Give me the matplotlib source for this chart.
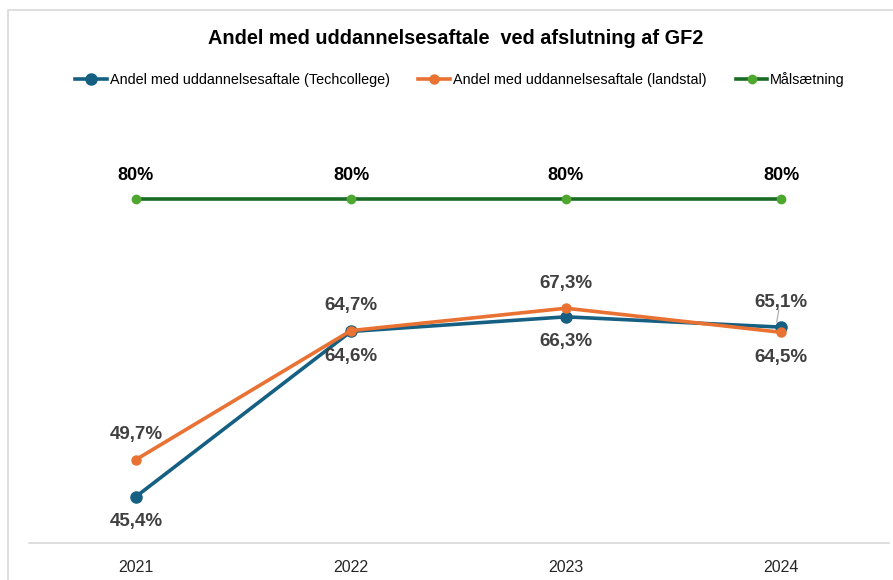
import matplotlib.pyplot as plt
from matplotlib.patches import Rectangle

years = ['2021', '2022', '2023', '2024']
techcollege = [45.4, 64.6, 66.3, 65.1]
landstal = [49.7, 64.7, 67.3, 64.5]
maal = [80, 80, 80, 80]

# label placement: +1 above, -1 below
tech_pos = [-1, -1, -1, 1]
land_pos = [1, 1, 1, -1]

plt.rcParams['font.family'] = ['Liberation Sans', 'DejaVu Sans']

fig = plt.figure(figsize=(8.93, 5.8), dpi=100)
frame = Rectangle((8/893, -0.1), 1.1, (580-10)/580 + 0.1, transform=fig.transFigure,
                  facecolor='white', edgecolor='#d9d9d9', linewidth=1.2, zorder=-10)
fig.patches.append(frame)

ax = fig.add_axes([28.5/893, 37/580, 860/893, 430/580])
ax.set_facecolor('none')
x = range(len(years))

ax.plot(x, maal, color='#196B24', linewidth=2.6, marker='o', markersize=6,
        markerfacecolor='#4EA72E', markeredgecolor='#4EA72E', label='Målsætning', zorder=2)
ax.plot(x, techcollege, color='#156082', linewidth=2.6, marker='o', markersize=8,
        label='Andel med uddannelsesaftale (Techcollege)', zorder=3)
ax.plot(x, landstal, color='#E97132', linewidth=2.6, marker='o', markersize=6.5,
        label='Andel med uddannelsesaftale (landstal)', zorder=4)

def fmt(v):
    return f'{v:.1f}'.replace('.', ',') + '%'

for i, v in enumerate(maal):
    ax.annotate(f'{v}%', (i, v), xytext=(0, 17), textcoords='offset points',
                ha='center', va='center', fontsize=13, fontweight='bold', color='black')
for i, (v, p) in enumerate(zip(techcollege, tech_pos)):
    ax.annotate(fmt(v), (i, v), xytext=(0, 18 * p), textcoords='offset points',
                ha='center', va='center', fontsize=13.5, fontweight='bold', color='#404040')
for i, (v, p) in enumerate(zip(landstal, land_pos)):
    ax.annotate(fmt(v), (i, v), xytext=(0, 18 * p), textcoords='offset points',
                ha='center', va='center', fontsize=13.5, fontweight='bold', color='#404040')
# leader line for 2024 Techcollege label
ax.plot([3 - 0.02, 3 - 0.01], [techcollege[3] + 0.6, techcollege[3] + 2.0], color='#a6a6a6', linewidth=0.8)

ax.set_xlim(-0.5, 3.5)
ax.set_ylim(40, 90)
ax.set_xticks(list(x))
ax.set_xticklabels(years, fontsize=11.5, color='#262626')
ax.set_yticks([])
for s in ['left', 'right', 'top']:
    ax.spines[s].set_visible(False)
ax.spines['bottom'].set_color('#d9d9d9')
ax.spines['bottom'].set_linewidth(1.2)
ax.tick_params(axis='x', length=0, pad=12)

fig.text(0.51, 1 - 38/580, 'Andel med uddannelsesaftale  ved afslutning af GF2', ha='center', va='center',
         fontsize=14.3, fontweight='bold', color='black')

handles, labels = ax.get_legend_handles_labels()
order = [1, 2, 0]
fig.legend([handles[i] for i in order], [labels[i] for i in order], loc='center',
           bbox_to_anchor=(0.515, 1 - 80/580), ncol=3, frameon=False, fontsize=10.4,
           handlelength=2.2, handletextpad=0.2, columnspacing=2.0)

fig.savefig('out.png', dpi=100)
